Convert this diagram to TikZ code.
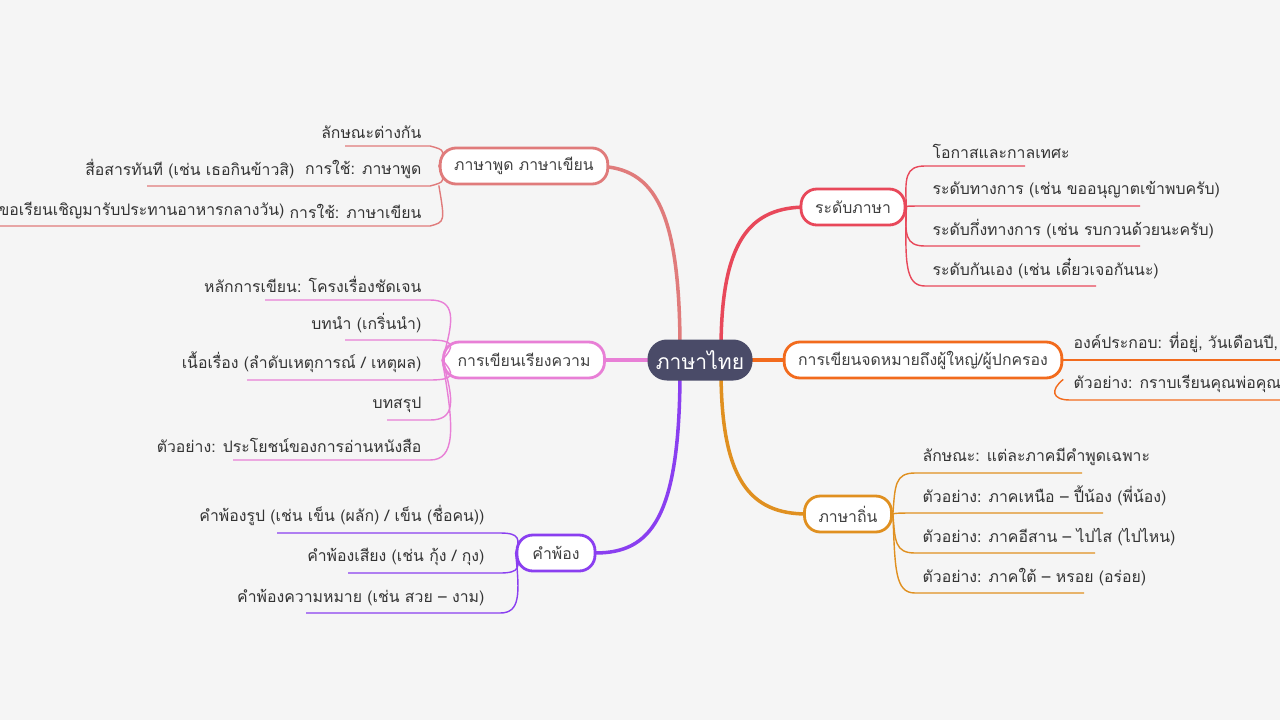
\documentclass[tikz,border=0pt]{standalone}
\usepackage{fontspec}
\setmainfont{Loma}[Script=Thai]
\definecolor{bgc}{HTML}{F5F5F5}
\definecolor{rootc}{HTML}{4A4B68}
\definecolor{cA}{HTML}{E07B7B}
\definecolor{cB}{HTML}{E87FD6}
\definecolor{cC}{HTML}{8A3FF0}
\definecolor{cD}{HTML}{E8485A}
\definecolor{cE}{HTML}{F26B1D}
\definecolor{cF}{HTML}{E09020}
\tikzset{
  topic/.style={draw=#1,line width=1.6pt,fill=white,rounded corners=9pt,
    minimum height=36*0.02cm,inner xsep=14*0.02cm,font=\fontsize{9}{11}\selectfont,text=black!75},
  leafl/.style={anchor=south east,inner xsep=3pt,inner ysep=4pt,font=\fontsize{9}{11}\selectfont,text=black!80},
  leafr/.style={anchor=south west,inner xsep=3pt,inner ysep=4pt,font=\fontsize{9}{11}\selectfont,text=black!80},
  mainln/.style={draw=#1,line width=2pt},
  subln/.style={draw=#1,line width=0.8pt},
}
\begin{document}
\begin{tikzpicture}[x=0.02cm,y=-0.02cm]
\fill[bgc] (0,0) rectangle (1280,720);
\clip (0,0) rectangle (1280,720);
% main connectors
\draw[mainln=cA] (680,350) .. controls (680,200) and (650,166) .. (593,166);
\draw[mainln=cB] (700,360) -- (593,360);
\draw[mainln=cC] (680,370) .. controls (680,520) and (650,553) .. (595,553);
\draw[mainln=cD] (721,350) .. controls (721,240) and (750,207) .. (807,207);
\draw[mainln=cE] (700,360) -- (807,360);
\draw[mainln=cF] (721,370) .. controls (721,480) and (750,514) .. (807,514);
% centre
\node[fill=rootc,rounded corners=11pt,minimum width=105*0.02cm,minimum height=41*0.02cm,
  text=white,font=\fontsize{12}{14}\selectfont](root) at (700,360) {ภาษาไทย};
% topics
\node[topic=cA,minimum width=138*0.02cm](pud) at (524,166) {ภาษาพูด ภาษาเขียน};
\node[topic=cB,minimum width=138*0.02cm](rieng) at (524,360) {การเขียนเรียงความ};
\node[topic=cC,minimum width=78*0.02cm](phong) at (556,553) {คำพ้อง};
\node[topic=cD,minimum width=93*0.02cm](radap) at (853,207) {ระดับภาษา};
\node[topic=cE,minimum width=233*0.02cm](jot) at (923,360) {การเขียนจดหมายถึงผู้ใหญ่/ผู้ปกครอง};
\node[topic=cF,minimum width=82*0.02cm](thin) at (848,514) {ภาษาถิ่น};
% ภาษาพูด ภาษาเขียน
\node[leafl](p1) at (427,146) {ลักษณะต่างกัน};
\node[leafl](p2) at (427,186) {การใช้: ภาษาพูด};
\node[leafl](p3) at (427,226) {การใช้: ภาษาเขียน};
\node[leafl](p21) at (300,186) {สื่อสารทันที (เช่น เธอกินข้าวสิ)};
\node[leafl](p31) at (290,226) {สื่อสารเป็นลายลักษณ์อักษร (เช่น ขอเรียนเชิญมารับประทานอาหารกลางวัน)};
\draw[subln=cA] (pud.west) .. controls (445,150) .. (430,146) -- (345,146);
\draw[subln=cA] (pud.west) .. controls (445,182) .. (430,186) -- (147,186);
\draw[subln=cA] (pud.south west) .. controls (445,222) .. (430,226) -- (0,226);
% การเขียนเรียงความ
\node[leafl](r1) at (427,300) {หลักการเขียน: โครงเรื่องชัดเจน};
\node[leafl](r2) at (427,340) {บทนำ (เกริ่นนำ)};
\node[leafl](r3) at (427,380) {เนื้อเรื่อง (ลำดับเหตุการณ์ / เหตุผล)};
\node[leafl](r4) at (427,420) {บทสรุป};
\node[leafl](r5) at (427,460) {ตัวอย่าง: ประโยชน์ของการอ่านหนังสือ};
\foreach \y/\xs in {300/265,340/345,380/247,420/387,460/233}
  \draw[subln=cB] (rieng.west) .. controls (455,{\y+(360-\y)*0.3}) and (455,\y) .. (430,\y) -- (\xs,\y);
% คำพ้อง
\node[leafl](k1) at (490,533) {คำพ้องรูป (เช่น เข็น (ผลัก) / เข็น (ชื่อคน))};
\node[leafl](k2) at (490,573) {คำพ้องเสียง (เช่น กุ้ง / กุง)};
\node[leafl](k3) at (490,613) {คำพ้องความหมาย (เช่น สวย – งาม)};
\foreach \y/\xs in {533/277,573/348,613/306}
  \draw[subln=cC] (phong.west) .. controls (520,{\y+(553-\y)*0.3}) and (520,\y) .. (500,\y) -- (\xs,\y);
% ระดับภาษา
\node[leafr](d1) at (927,166) {โอกาสและกาลเทศะ};
\node[leafr](d2) at (927,206) {ระดับทางการ (เช่น ขออนุญาตเข้าพบครับ)};
\node[leafr](d3) at (927,246) {ระดับกึ่งทางการ (เช่น รบกวนด้วยนะครับ)};
\node[leafr](d4) at (927,286) {ระดับกันเอง (เช่น เดี๋ยวเจอกันนะ)};
\foreach \y/\xe in {166/1025,206/1140,246/1140,286/1096}
  \draw[subln=cD] (radap.east) .. controls (905,{\y+(207-\y)*0.3}) and (905,\y) .. (925,\y) -- (\xe,\y);
% จดหมาย
\node[leafr](j1) at (1068,360) {องค์ประกอบ: ที่อยู่, วันเดือนปี, คำขึ้นต้น, เนื้อหา, คำลงท้าย};
\node[leafr](j2) at (1068,400) {ตัวอย่าง: กราบเรียนคุณพ่อคุณแม่ที่เคารพ};
\draw[subln=cE] (jot.east) -- (1290,360);
\draw[subln=cE] (jot.south east) .. controls (1050,390) and (1052,400) .. (1070,400) -- (1290,400);
% ภาษาถิ่น
\node[leafr](t1) at (917,473) {ลักษณะ: แต่ละภาคมีคำพูดเฉพาะ};
\node[leafr](t2) at (917,513) {ตัวอย่าง: ภาคเหนือ – ปี้น้อง (พี่น้อง)};
\node[leafr](t3) at (917,553) {ตัวอย่าง: ภาคอีสาน – ไปไส (ไปไหน)};
\node[leafr](t4) at (917,593) {ตัวอย่าง: ภาคใต้ – หรอย (อร่อย)};
\foreach \y/\xe in {473/1082,513/1103,553/1095,593/1084}
  \draw[subln=cF] (thin.east) .. controls (895,{\y+(514-\y)*0.3}) and (895,\y) .. (915,\y) -- (\xe,\y);
\end{tikzpicture}
\end{document}
